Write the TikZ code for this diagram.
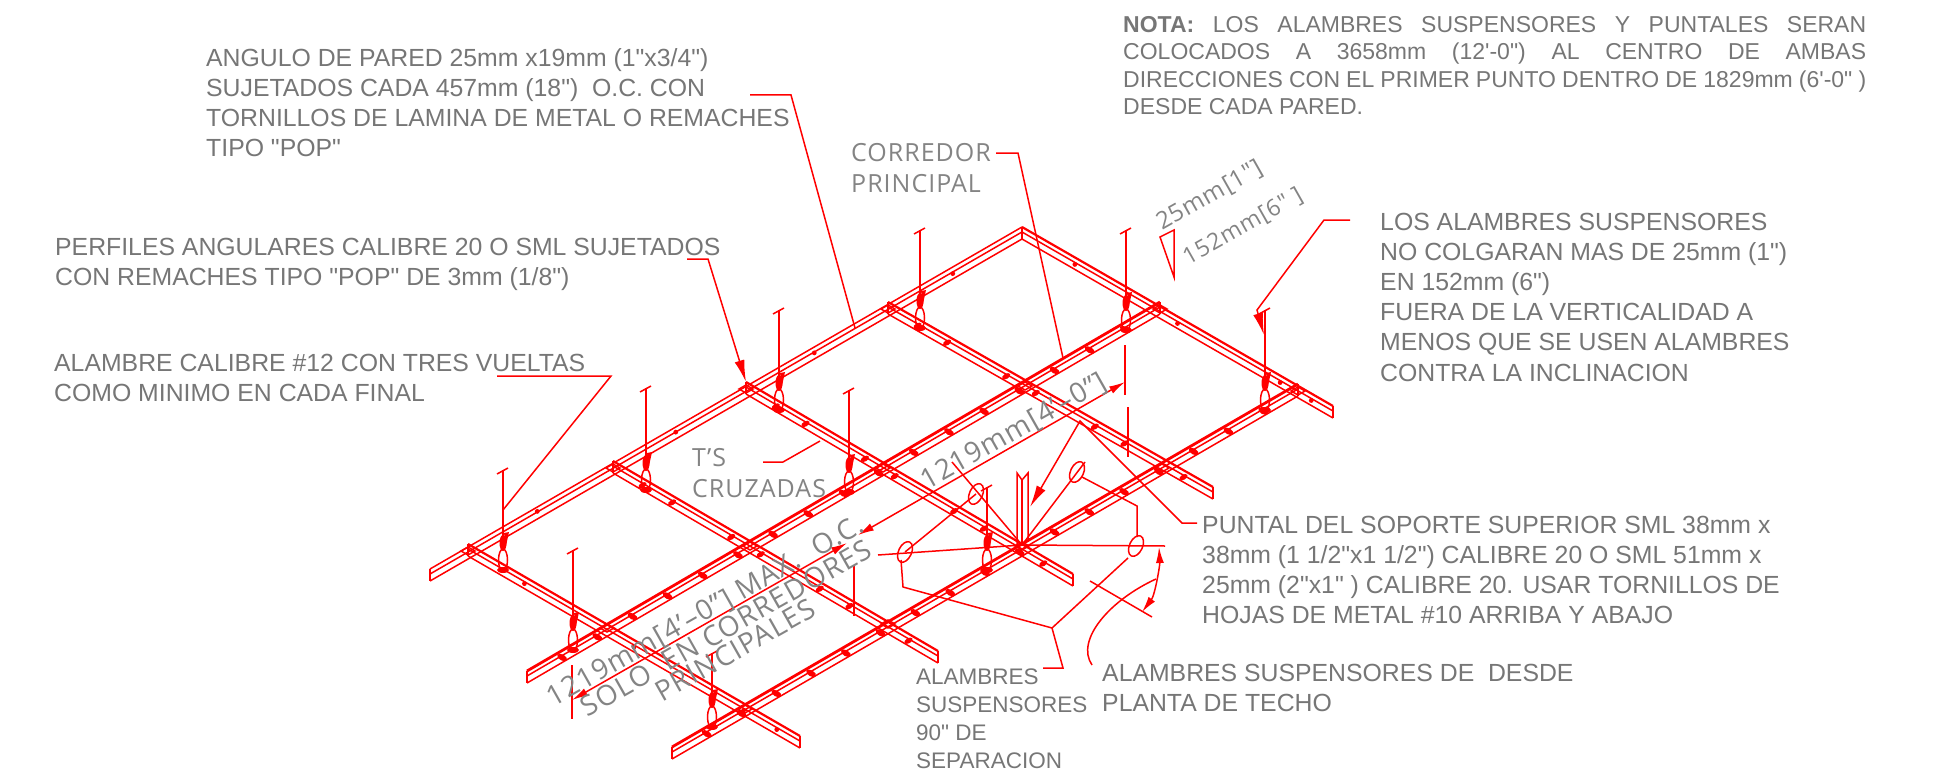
\documentclass[tikz,border=0pt]{standalone}
\usepackage{fontspec}
\newfontfamily\cadfont{Liberation Sans}
\newfontfamily\isofont[LetterSpace=4]{Open Sans}
\usetikzlibrary{calc,arrows.meta}
\definecolor{txtgray}{RGB}{118,118,118}
\definecolor{isogray}{RGB}{132,132,132}
\tikzset{
  tag/.style={text=txtgray, inner sep=0pt, anchor=north west, align=left,
    font=\fontsize{24.8}{30.1}\cadfont\selectfont},
  smalltag/.style={tag, font=\fontsize{22.5}{27.8}\cadfont\selectfont},
  isotag/.style={tag, text=isogray, font=\fontsize{25}{31.5}\isofont\selectfont},
  dimtag/.style={text=isogray, inner sep=0pt, anchor=center, rotate=29.5,
    font=\fontsize{28}{31}\isofont\selectfont},
  barline/.style={draw=red, line width=1.5pt},
  wire/.style={draw=red, line width=1.5pt},
  leader/.style={wire, -{Latex[length=22pt,width=10pt]}},
  dimline/.style={wire, {Latex[length=16pt,width=8pt]}-{Latex[length=16pt,width=8pt]}}
}
\newcommand{\profilebar}[3]{% from, to, width of the upper edge
  \draw[barline, line width=#3] ($(#1)+(0,-6)$) -- ($(#2)+(0,-6)$);
  \draw[barline] ($(#1)+(0,-1)$) -- ($(#2)+(0,-1)$);
  \draw[barline] ($(#1)+(0,6)$) -- ($(#2)+(0,6)$);
  \draw[barline] ($(#1)+(0,-6)$) -- ($(#1)+(0,6)$);
  \draw[barline] ($(#2)+(0,-6)$) -- ($(#2)+(0,6)$);
}
\begin{document}
\begin{tikzpicture}[x=1pt, y=-1pt]
  \useasboundingbox (0,0) rectangle (1942,781);

  % grid points
  \foreach \n/\x/\y in {p00/468/550, p01/613/467, p02/746/388, p03/888/308, p04/1022/233,
      p10/607/627, p11/750/545, p12/883/467, p13/1025/385, p14/1160/308,
      p20/745/708, p21/888/623, p22/1022/545, p23/1162/467, p24/1298/390,
      w0/430/575, r1/527/677, r2/672/753,
      t0/800/742, t1/938/657, t2/1073/580, t3/1213/493, t4/1333/412} {
    \coordinate (\n) at (\x,\y);
  }

  % runners and cross tees
  \foreach \a/\b in {p00/t0, p01/t1, p02/t2, p03/t3, p04/t4} {
    \profilebar{\a}{\b}{2.2pt}
  }
  \profilebar{w0}{p04}{1.5pt}
  \profilebar{r1}{p14}{2.8pt}
  \profilebar{r2}{p24}{2.8pt}

  % slots
  \foreach \a/\b/\n in {r1/p14/18, r2/p24/18} {
    \foreach \i in {1,...,17} {
      \fill[red] ($(\a)!\i/\n!(\b)+(0,1)$) ellipse [x radius=5.5, y radius=3, rotate=-30];
    }
  }
  \foreach \a/\b/\n in {p01/t1/11, p02/t2/11, p03/t3/11} {
    \foreach \i in {1,2,4,5,7,8,10} {
      \fill[red] ($(\a)!\i/\n!(\b)+(0,1)$) ellipse [x radius=4.5, y radius=2.6, rotate=30];
    }
  }
  \foreach \t in {0.125,0.375,0.625,0.875} {
    \fill[red] ($(p00)!\t!(p04)+(0,1)$) circle (2.4);
  }
  \foreach \t in {0.17,0.5,0.83,0.93} {
    \fill[red] ($(p00)!\t!(t0)+(0,1)$) circle (2.4);
    \fill[red] ($(p04)!\t!(t4)+(0,1)$) circle (2.4);
  }
  \foreach \n in {p00,p01,p02,p03,p10,p11,p12,p13,p14,p20,p21,p22,p23,p24} {
    \draw[barline] ($(\n)+(-7,1)$) -- ($(\n)+(0,-3)$) -- ($(\n)+(7,1)$) -- ($(\n)+(0,5)$) -- cycle;
  }

  % hanger wires
  \foreach \wx/\wtop/\wbot in {503/470/570, 646/388/490, 779/310/410, 573/550/650, 849/390/492,
      712/653/727, 920/230/328, 1126/230/330, 987/487/570, 1265/310/410} {
    \draw[wire, line width=2pt] (\wx,\wtop) -- (\wx,\wbot-25);
    \draw[wire] (\wx-6,\wtop+4) -- (\wx+5,\wtop-2);
    \fill[red] (\wx,\wbot-27) ellipse [x radius=3.5, y radius=8];
    \fill[red] (\wx+1,\wbot-37) -- (\wx+6,\wbot-38) -- (\wx+3,\wbot-24) -- cycle;
    \draw[wire] (\wx,\wbot-10) ellipse [x radius=4.5, y radius=11];
    \fill[red] (\wx,\wbot) ellipse [x radius=6, y radius=3];
  }

  % vertical stub at the centre
  \coordinate (stub) at (1022,545);
  \draw[barline] (1017,545) -- (1017,473) -- (1022,480) -- (1028,473) -- (1028,540);
  \draw[barline] (1022,480) -- (stub);

  % ellipses and wires of the splay
  \coordinate (e1) at (976,494);
  \coordinate (e2) at (1077,472);
  \coordinate (e3) at (905,552);
  \coordinate (e4) at (1136,546);
  \foreach \n in {e1,e2,e3,e4} {
    \draw[wire] (\n) ellipse [x radius=6.5, y radius=11, rotate=-25];
  }
  \draw[wire] (952,462) -- (stub);
  \draw[wire] (1085,462) -- (stub);
  \draw[wire] (878,555) -- (stub);
  \draw[wire] (stub) -- (1165,546);
  \draw[wire] (e1) -- (e3);
  \coordinate (splay) at (1052,628);
  \draw[wire] (1082,477) -- (1137,506) -- (1137,537);
  \draw[wire] (1128,558) -- (splay);
  \draw[wire] (901,560) -- (903,587) -- (splay);

  % dimension lines
  \coordinate (dimA) at (858,535);
  \coordinate (dimB) at (1125,382);
  \coordinate (dimC) at (572,700);
  \coordinate (dimD) at (847,543);
  \draw[dimline] (dimA) -- (dimB);
  \draw[dimline] (dimC) -- (dimD);
  \draw[wire] (1125,345) -- (1125,395);
  \draw[wire, line width=2pt] (1128,407) -- (1128,457);
  \draw[wire, line width=2pt] (854,566) -- (854,616);
  \draw[wire] (572,665) -- (572,719);

  % angle mark
  \draw[wire] (1090,581) -- (1152,617);
  \draw[dimline] (1159,547) .. controls (1160,565) and (1155,595) .. (1142,612);
  \draw[wire] (1092,665) .. controls (1075,640) and (1110,600) .. (1156,579);

  % slope triangle
  \draw[wire] (1160,237) -- (1174,230) -- (1174,277) -- cycle;

  % texts
  \node[tag] (angulo) at (206,48) {ANGULO DE PARED 25mm x19mm (1"x3/4")\\SUJETADOS CADA 457mm (18")\ \ O.C. CON\\TORNILLOS DE LAMINA DE METAL O REMACHES\\TIPO "POP"};
  \node[tag] (perfiles) at (55,238) {PERFILES ANGULARES CALIBRE 20 O SML SUJETADOS\\CON REMACHES TIPO "POP" DE 3mm (1/8")};
  \node[tag] (alambre) at (54,354) {ALAMBRE CALIBRE \#12 CON TRES VUELTAS\\COMO MINIMO EN CADA FINAL};
  \node[tag, font=\fontsize{23}{27.5}\cadfont\selectfont] (nota) at (1123,16) {\makebox[743pt][s]{\textbf{NOTA:} LOS ALAMBRES SUSPENSORES Y PUNTALES SERAN}\\\makebox[743pt][s]{COLOCADOS A 3658mm (12'-0") AL CENTRO DE AMBAS}\\\makebox[743pt][s]{DIRECCIONES CON EL PRIMER PUNTO DENTRO DE 1829mm (6'-0" )}\\DESDE CADA PARED.};
  \node[isotag] (corredor) at (851,143) {CORREDOR\\PRINCIPAL};
  \node[isotag] (cruzadas) at (692,448) {T’S\\CRUZADAS};
  \node[tag] (vertical) at (1380,213) {LOS ALAMBRES SUSPENSORES\\NO COLGARAN MAS DE 25mm (1")\\EN 152mm (6")\\FUERA DE LA VERTICALIDAD A\\MENOS QUE SE USEN ALAMBRES\\CONTRA LA INCLINACION};
  \node[tag] (puntal) at (1202,516) {PUNTAL DEL SOPORTE SUPERIOR SML 38mm x\\38mm (1 1/2"x1 1/2") CALIBRE 20 O SML 51mm x\\25mm (2"x1" ) CALIBRE 20. USAR TORNILLOS DE\\HOJAS DE METAL \#10 ARRIBA Y ABAJO};
  \node[tag] (desde) at (1102,664) {ALAMBRES SUSPENSORES DE\ \ DESDE\\PLANTA DE TECHO};
  \node[smalltag] (separacion) at (916,669) {ALAMBRES\\SUSPENSORES\\90" DE\\SEPARACION};
  \node[dimtag] (dimtop) at (1014,432) {1219mm[4’–0”]};
  \node[dimtag] (dimmax) at (706,612) {1219mm[4’–0”] MAX.\ \ O.C.};
  \node[dimtag] (solo) at (726,628) {SOLO\ \ EN CORREDORES};
  \node[dimtag] (princ) at (735,650) {PRINCIPALES};
  \node[dimtag, font=\fontsize{24}{26}\isofont\selectfont] (inch) at (1210,196) {25mm[1"]};
  \node[dimtag, font=\fontsize{23}{26}\isofont\selectfont] (six) at (1243,227) {152mm[6" ]};

  % leaders
  \coordinate (anguloEnd) at (750,95);
  \coordinate (corredorEnd) at (996,153);
  \coordinate (perfilesEnd) at (687,259);
  \coordinate (alambreEnd) at (497,376);
  \coordinate (cruzadasEnd) at (763,462);
  \coordinate (verticalEnd) at (1350,220);
  \coordinate (puntalEnd) at (1197,523);
  \coordinate (sepEnd) at (1043,668);
  \draw[wire] (anguloEnd) -- (791,95) -- (855,328);
  \draw[wire] (corredorEnd) -- (1018,153) -- (1063,358);
  \draw[leader] (perfilesEnd) -- (708,259) -- (746,382);
  \draw[wire] (alambreEnd) -- (611,376) -- (503,510);
  \draw[wire] (cruzadasEnd) -- (783,462) -- (820,441);
  \draw[leader] (verticalEnd) -- (1324,220) -- (1257,310) -- (1264,335);
  \draw[leader] (puntalEnd) -- (1182,523) -- (1080,421) -- (1030,507);
  \draw[wire] (sepEnd) -- (1063,668) -- (splay);
\end{tikzpicture}
\end{document}
